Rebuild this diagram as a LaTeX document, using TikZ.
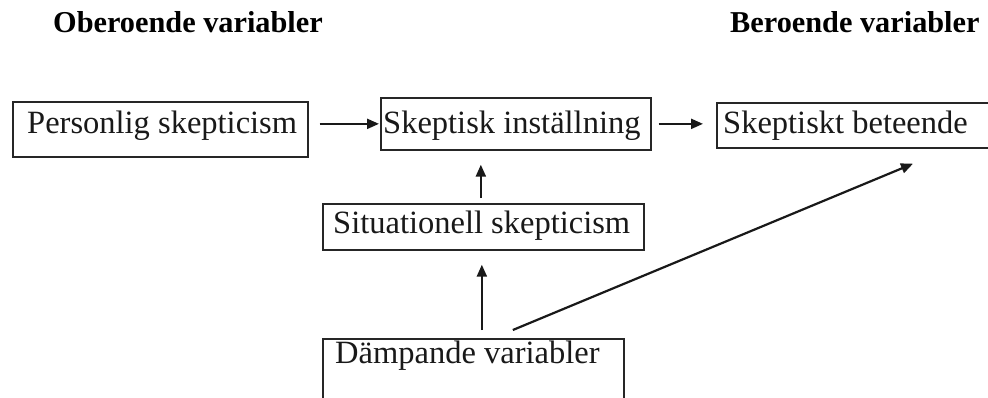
\documentclass[tikz,border=0pt]{standalone}
\usepackage{fontspec}
\setmainfont{Liberation Serif}
\usetikzlibrary{arrows.meta}
\begin{document}
\begin{tikzpicture}[x=1pt,y=-1pt,
  box/.style={draw=black!85, line width=1.7pt, rectangle, inner sep=0pt, anchor=north west},
  txt/.style={anchor=base west, inner sep=0pt, text=black!90, font=\fontsize{32.5}{39}\selectfont},
  head/.style={anchor=base west, inner sep=0pt, text=black, font=\fontsize{30.3}{36}\selectfont\bfseries},
  arr/.style={line width=2.2pt, draw=black!90, -{Triangle[length=12pt,width=10pt]}}]
\useasboundingbox (0,0) rectangle (988,397);
\clip (0,0) rectangle (988,397);
\fill[white] (0,0) rectangle (988,397);
% headers
\node[head] (h1) at (53,32) {Oberoende variabler};
\node[head] (h2) at (730,32) {Beroende variabler};
% boxes
\node[box, minimum width=295pt, minimum height=55pt] (p) at (12,101) {};
\node[box, minimum width=270pt, minimum height=52pt] (s) at (380,97) {};
\node[box, minimum width=300pt, minimum height=45pt] (b) at (716,102) {};
\node[box, minimum width=321pt, minimum height=46pt] (sit) at (322,203) {};
\node[box, minimum width=301pt, minimum height=80pt] (d) at (322,338) {};
% texts
\node[txt] (pt) at (27,133) {Personlig skepticism};
\node[txt] (st) at (383,133) {Skeptisk inställning};
\node[txt] (bt) at (723,133) {Skeptiskt beteende};
\node[txt] (sitt) at (333,233) {Situationell skepticism};
\node[txt] (dt) at (335,363) {Dämpande variabler};
% connectors
\draw[arr, shorten <=11pt, shorten >=1pt] (p.east |- s.west) -- (s.west);
\draw[arr, shorten <=7pt, shorten >=13pt] (s.east) -- (b.west |- s.east);
\draw[arr, shorten <=5pt, shorten >=14pt] ([xshift=-2.5pt]sit.north) -- ([xshift=-2.5pt]sit.north |- s.south);
\draw[arr, shorten <=8pt, shorten >=14pt] ([xshift=-1.5pt]sit.south |- d.north) -- ([xshift=-1.5pt]sit.south);
\draw[arr] ([xshift=39.5pt,yshift=8pt]d.north) -- ([xshift=197pt,yshift=-15pt]b.south west);
\end{tikzpicture}
\end{document}
